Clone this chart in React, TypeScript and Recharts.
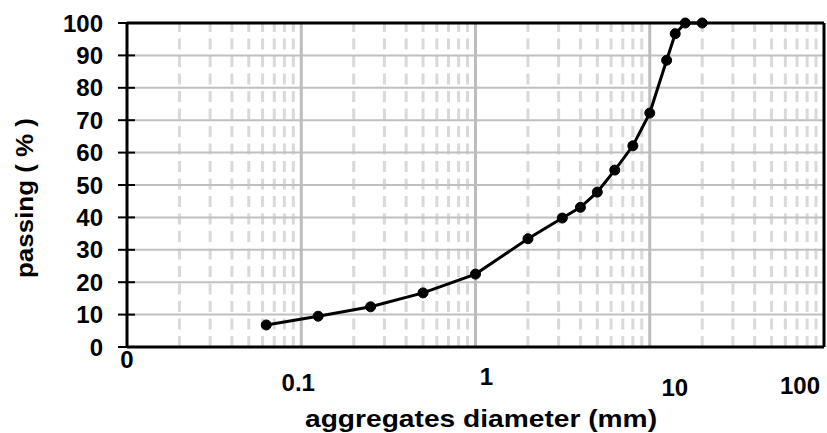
import React from 'react';
import { LineChart, Line, XAxis, YAxis, ReferenceLine, Label } from 'recharts';

// sieve analysis - grading curve
const sieveSize = [0.063, 0.125, 0.25, 0.5, 1, 2, 3.15, 4, 5, 6.3, 8, 10, 12.5, 14, 16, 20];
const passing = [6.8, 9.5, 12.4, 16.7, 22.5, 33.4, 39.8, 43.1, 47.8, 54.6, 62.1, 72.2, 88.5, 96.7, 100, 100];

const xTicks = [0.01, 0.1, 1, 10, 100];
const xTickLabels = ['0', '0.1', '1', '10', '100'];
const yTicks = [0, 10, 20, 30, 40, 50, 60, 70, 80, 90, 100];
const hGrid = [10, 20, 30, 40, 50, 60, 70, 80, 90];
const decadeLines = [0.1, 1, 10];
const decadeStarts = [0.01, 0.1, 1, 10];
const minorSteps = [2, 3, 4, 5, 6, 7, 8, 9];

const minorLines = decadeStarts.flatMap(d => minorSteps.map(m => parseFloat((d * m).toPrecision(3))));
const data = sieveSize.map((s, i) => ({ size: s, passing: passing[i] }));

const FONT = '"Liberation Sans", Arial, sans-serif';

// the source labels wander a bit around their ticks
const xLabelDx = [0, -3, 11, 25, -24];
const xLabelDy = [13, 36, 30, 41, 39];

const XTick = (props: any) => {
    const { x, y, payload } = props;
    const i = xTicks.indexOf(payload.value);
    return (
        <text x={x + xLabelDx[i]} y={y + xLabelDy[i]} textAnchor="middle" fontFamily={FONT} fontWeight="bold" fontSize={24} fill="#000">
            {xTickLabels[i]}
        </text>
    );
};

const YTick = (props: any) => {
    const { x, y, payload } = props;
    return (
        <g>
            <line x1={x + 15} x2={x + 32} y1={y} y2={y} stroke="#000" strokeWidth={2} />
            <text x={x} y={y} dy="0.36em" textAnchor="end" fontFamily={FONT} fontWeight="bold" fontSize={24} fill="#000">
                {payload.value}
            </text>
        </g>
    );
};

export default function App() {
    return (
        <div style={{ position: 'absolute', left: 0, top: 0, background: '#fff' }}>
            <LineChart width={827} height={433} data={data} margin={{ top: 23, right: 3, left: 0, bottom: 0 }}>
                {minorLines.map(v => (
                    <ReferenceLine key={`m-${v}`} x={v} stroke="#d9d9d9" strokeWidth={3} strokeDasharray="11 6.5" />
                ))}
                {hGrid.map(v => (
                    <ReferenceLine key={`h-${v}`} y={v} stroke="#c0c0c0" strokeWidth={2} />
                ))}
                {decadeLines.map(v => (
                    <ReferenceLine key={`d-${v}`} x={v} stroke="#bdbdbd" strokeWidth={3} />
                ))}
                <ReferenceLine y={100} stroke="#000" strokeWidth={3} />
                <ReferenceLine x={100} stroke="#000" strokeWidth={3} />
                <XAxis
                    dataKey="size"
                    type="number"
                    scale="log"
                    domain={[0.01, 100]}
                    ticks={xTicks}
                    allowDataOverflow
                    height={86}
                    axisLine={{ stroke: '#000', strokeWidth: 3 }}
                    tickLine={false}
                    tick={<XTick />}
                    interval={0}
                >
                    <Label
                        content={() => (
                            <text x={481} y={427} textAnchor="middle" fontFamily={FONT} fontWeight="bold" fontSize={24} textLength={352} lengthAdjust="spacingAndGlyphs" fill="#000">
                                aggregates diameter (mm)
                            </text>
                        )}
                    />
                </XAxis>
                <YAxis
                    type="number"
                    domain={[0, 100]}
                    ticks={yTicks}
                    width={127}
                    tickSize={9}
                    tickMargin={15}
                    axisLine={{ stroke: '#000', strokeWidth: 3 }}
                    tickLine={false}
                    tick={<YTick />}
                    interval={0}
                >
                    <Label
                        content={() => (
                            <text x={24} y={198} dy="0.36em" transform="rotate(-90 24 198)" textAnchor="middle" fontFamily={FONT} fontWeight="bold" fontSize={24} textLength={160} lengthAdjust="spacingAndGlyphs" fill="#000">
                                passing ( % )
                            </text>
                        )}
                    />
                </YAxis>
                <Line
                    type="linear"
                    dataKey="passing"
                    stroke="#000"
                    strokeWidth={3}
                    dot={{ r: 5, fill: '#000', stroke: '#000', strokeWidth: 1 }}
                    isAnimationActive={false}
                />
            </LineChart>
        </div>
    );
}
